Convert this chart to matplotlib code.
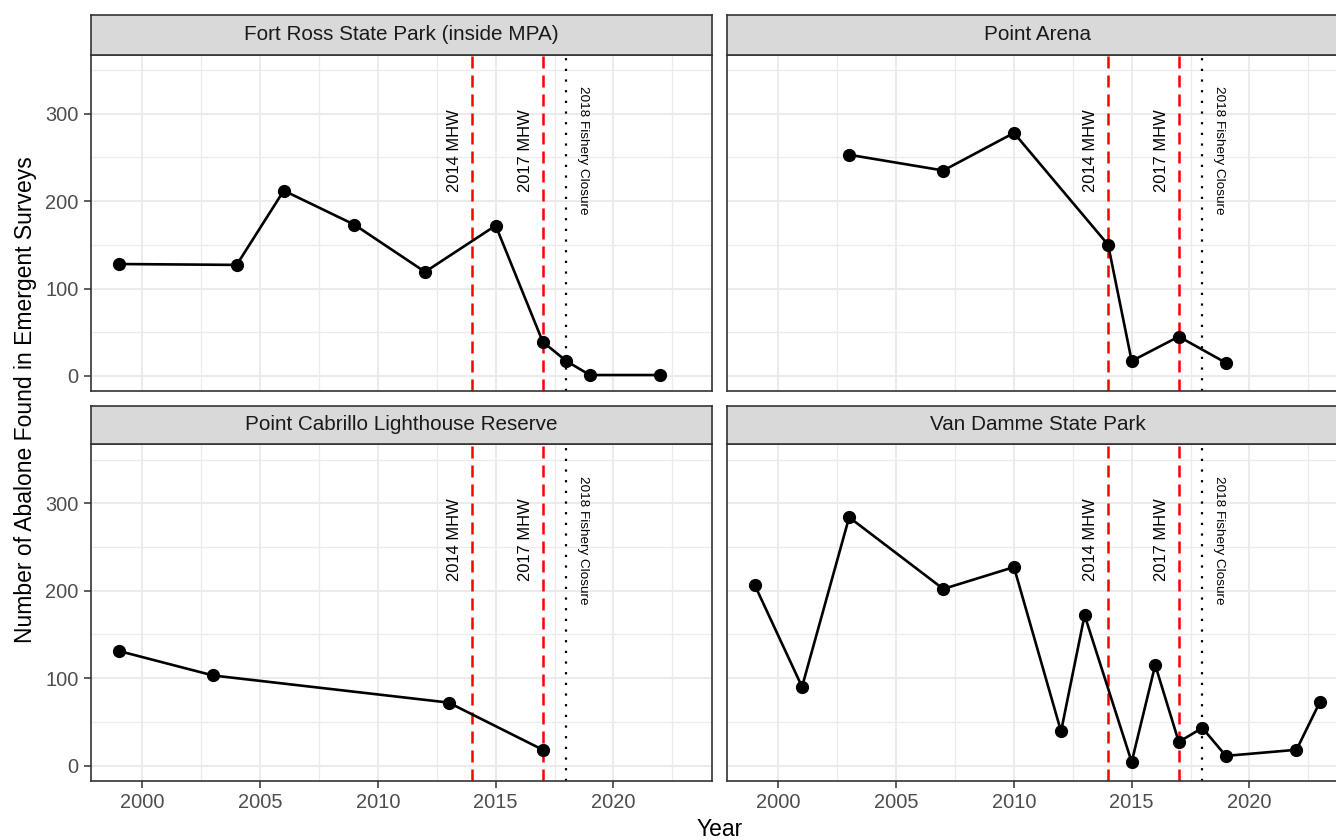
import matplotlib

matplotlib.use("Agg")
import matplotlib.pyplot as plt
from matplotlib.ticker import MultipleLocator

plt.rcParams["font.family"] = ["Liberation Sans", "DejaVu Sans"]

# figure size in pixels (dpi 100)
W, H = 1336, 840

sites = [
    "Fort Ross State Park (inside MPA)",
    "Point Arena",
    "Point Cabrillo Lighthouse Reserve",
    "Van Damme State Park",
]

fort_ross_years = [1999, 2004, 2006, 2009, 2012, 2015, 2017, 2018, 2019, 2022]
fort_ross_counts = [128, 127, 212, 173, 119, 172, 39, 17, 1, 1]

point_arena_years = [2003, 2007, 2010, 2014, 2015, 2017, 2019]
point_arena_counts = [253, 235, 278, 150, 17, 45, 15]

point_cabrillo_years = [1999, 2003, 2013, 2017]
point_cabrillo_counts = [131, 103, 72, 18]

van_damme_years = [1999, 2001, 2003, 2007, 2010, 2012, 2013, 2015, 2016, 2017,
                   2018, 2019, 2022, 2023]
van_damme_counts = [206, 90, 284, 202, 227, 39, 172, 4, 115, 27, 43, 11, 18, 73]

mhw_years = [2014, 2017]
mhw_labels = ["2014 MHW", "2017 MHW"]
closure_year = 2018
closure_label = "2018 Fishery Closure"
label_y = 258

series = [
    (fort_ross_years, fort_ross_counts),
    (point_arena_years, point_arena_counts),
    (point_cabrillo_years, point_cabrillo_counts),
    (van_damme_years, van_damme_counts),
]

GREY20 = "#333333"
GREY30 = "#4D4D4D"
GREY85 = "#D9D9D9"
GREY92 = "#EBEBEB"


def px_rect(left, top, width, height):
    return [left / W, 1 - (top + height) / H, width / W, height / H]


col_left = [90.7, 726.7]
col_width = 621.6
row_strip_top = [15.3, 405.7]
row_panel_top = [54.7, 444.3]
strip_h = [39.4, 38.6]
panel_h = 336.5

fig = plt.figure(figsize=(W / 100, H / 100), dpi=100)

for i, (site, (years, counts)) in enumerate(zip(sites, series)):
    row, col = divmod(i, 2)

    ax = fig.add_axes(px_rect(col_left[col], row_panel_top[row], col_width, panel_h))
    ax.set_xlim(1997.8, 2024.2)
    ax.set_ylim(-17.5, 367.5)

    ax.xaxis.set_major_locator(MultipleLocator(5))
    ax.xaxis.set_minor_locator(MultipleLocator(2.5))
    ax.yaxis.set_major_locator(MultipleLocator(100))
    ax.yaxis.set_minor_locator(MultipleLocator(50))
    ax.grid(which="major", color=GREY92, linewidth=1.5, zorder=0)
    ax.grid(which="minor", color=GREY92, linewidth=0.9, zorder=0)
    ax.set_axisbelow(True)

    for sp in ax.spines.values():
        sp.set_color(GREY20)
        sp.set_linewidth(1.2)
    # the right column runs past the picture edge, so its right border is cut off
    if col == 1:
        ax.spines["right"].set_visible(False)

    ax.tick_params(which="minor", length=0)
    ax.tick_params(which="major", length=4.8, width=1.1, color=GREY20,
                   labelsize=14.4, labelcolor=GREY30, pad=4)
    if row == 0:
        ax.tick_params(which="major", bottom=False, labelbottom=False)
    if col == 1:
        ax.tick_params(which="major", left=False, labelleft=False)

    # event lines
    for yr, lab in zip(mhw_years, mhw_labels):
        ax.axvline(yr, color="red", linewidth=1.8, dashes=(4.8, 2.8), zorder=2)
        ax.annotate(lab, xy=(yr, label_y), xytext=(-12.6, 0),
                    textcoords="offset points", rotation=90,
                    ha="center", va="center", fontsize=11.9, color="black")
    ax.axvline(closure_year, color="black", linewidth=1.6, dashes=(1, 3.8),
               zorder=2)
    ax.annotate(closure_label, xy=(closure_year, label_y), xytext=(12.0, 0),
                textcoords="offset points", rotation=-90,
                ha="center", va="center", fontsize=9.7, color="black")

    ax.plot(years, counts, color="black", linewidth=1.9, zorder=3)
    ax.plot(years, counts, "o", color="black", markersize=8.5, zorder=4)

    # facet strip
    sax = fig.add_axes(px_rect(col_left[col], row_strip_top[row], col_width,
                               strip_h[row]))
    sax.set_facecolor(GREY85)
    sax.set_xticks([])
    sax.set_yticks([])
    for sp in sax.spines.values():
        sp.set_color(GREY20)
        sp.set_linewidth(1.2)
    if col == 1:
        sax.spines["right"].set_visible(False)
    sax.text(0.5, 0.5, site, transform=sax.transAxes, ha="center",
             va="center", fontsize=14.9, color="#1A1A1A")

fig.text(719.5 / W, 1 - 830 / H, "Year", ha="center", va="center",
         fontsize=16.5)
fig.text(26 / W, 1 - 400 / H, "Number of Abalone Found in Emergent Surveys",
         rotation=90, ha="center", va="center", fontsize=16.5)

fig.savefig("out.png", dpi=100)
